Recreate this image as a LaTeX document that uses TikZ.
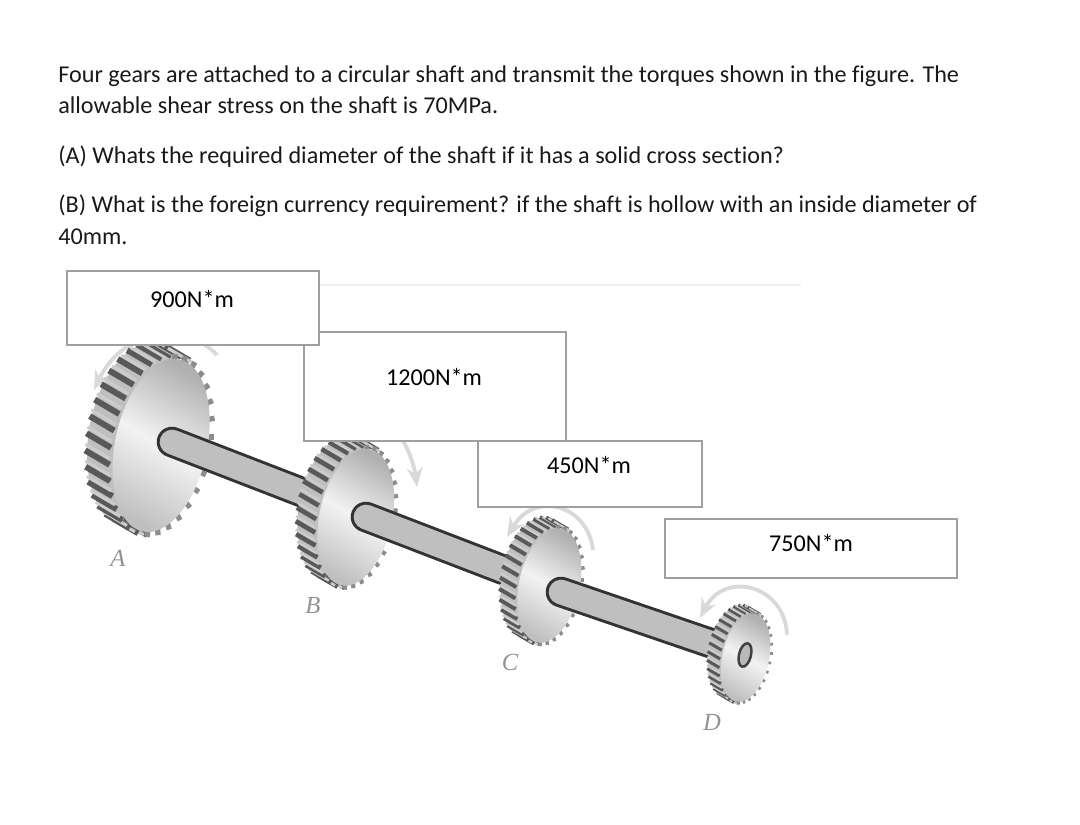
\documentclass[tikz,border=0pt]{standalone}
\usepackage{fontspec}
\setmainfont[Ligatures=NoCommon]{Carlito}
\newfontfamily\letterfont{Liberation Serif}
\usetikzlibrary{arrows.meta}

% One gear wheel: x, y, scale
\newcommand{\gearwheel}[3]{
    \begin{scope}[shift={(#1,#2)}, scale=#3, rotate=-12]
        % Teeth across the rim, left side
        \fill[gray!50] (-15,-6) ellipse (47 and 89);
        \foreach \a in {84,95,...,282} {
            \draw[toothdark, line width=#3*3.4pt] (\a:49 and 91) ++(-15,-6) -- ++(27,9);
            \draw[toothlight, line width=#3*1.8pt] (\a+4:49 and 91) ++(-15,-6) -- ++(27,9);
        }
        % Small teeth round the front edge
        \foreach \a in {-96,-84,...,90} {
            \draw[toothedge, line width=#3*3pt] (\a:44 and 86) ++(12,3) -- ++(\a:7 and 7);
        }
        % Front face
        \shade[left color=gray!62, right color=gray!50, middle color=gray!10, shading angle=-30] (12,3) ellipse (46 and 88);
    \end{scope}
}

\tikzset{
    shaftline/.style={draw=black!80, line width=1.7pt, double=gray!50, double distance=14pt, line cap=round},
    toothdark/.style={draw=black!65},
    toothlight/.style={draw=gray!40},
    toothedge/.style={draw=black!45},
    torquearrow/.style={draw=gray!30, line width=2.2pt, -{Stealth[length=11pt, width=9pt]}},
    torquebox/.style={draw=gray!75, line width=1.1pt, fill=white, inner sep=0pt},
    bodyline/.style={anchor=base west, inner sep=0pt, text=black!90},
    pointname/.style={text=gray!85, font=\fontsize{14}{16}\selectfont\letterfont\itshape},
}

\begin{document}
\begin{tikzpicture}[x=0.02cm, y=-0.02cm, every node/.style={font=\fontsize{13.75}{16}\selectfont}]
    \useasboundingbox (0,0) rectangle (1080,825);

    % Question text
    \node[bodyline] (lineone) at (58,82) {Four gears are attached to a circular shaft and transmit the torques shown in the figure. The};
    \node[bodyline] (linetwo) at (58,113) {allowable shear stress on the shaft is 70MPa.};
    \node[bodyline] (linethree) at (58,163) {(A) Whats the required diameter of the shaft if it has a solid cross section?};
    \node[bodyline] (linefour) at (58,212) {(B) What is the foreign currency requirement? if the shaft is hollow with an inside diameter of};
    \node[bodyline] (linefive) at (58,244) {40mm.};

    % Faint rule behind the figure
    \coordinate (ruleleft) at (67,285);
    \coordinate (ruleright) at (801,285);
    \draw[gray!12, line width=1pt] (ruleleft) -- (ruleright);

    % Shaft ends
    \coordinate (shaftA) at (172,442);
    \coordinate (shaftB) at (366,517);
    \coordinate (shaftC) at (561,592);
    \coordinate (shaftD) at (725,648);

    % Torque arrows
    \coordinate (arrowAstart) at (217,355);
    \coordinate (arrowAend) at (94,390);
    \coordinate (arrowBstart) at (403,441);
    \coordinate (arrowBend) at (417,487);
    \coordinate (arrowCstart) at (593,550);
    \coordinate (arrowCend) at (507,537);
    \coordinate (arrowDstart) at (787,635);
    \coordinate (arrowDend) at (700,618);
    \draw[torquearrow] (arrowAstart) .. controls (190,325) and (125,325) .. (arrowAend);
    \draw[torquearrow] (arrowBstart) .. controls (410,452) and (415,470) .. (arrowBend);
    \draw[torquearrow] (arrowCstart) .. controls (588,505) and (535,490) .. (arrowCend);
    \draw[torquearrow] (arrowDstart) .. controls (785,585) and (725,570) .. (arrowDend);

    % Gears and shaft
    \gearwheel{150}{440}{1}
    \draw[shaftline] (shaftA) -- (shaftB);
    \gearwheel{347}{513}{0.79}
    \draw[shaftline] (shaftB) -- (shaftC);
    \gearwheel{542}{582}{0.66}
    \draw[shaftline] (shaftC) -- (shaftD);
    \gearwheel{740}{655}{0.51}
    \draw[draw=black!75, line width=1.4pt, fill=gray!55, rotate around={-14:(745,655)}] (745,655) ellipse (6 and 12);

    % Gear letters
    \node[pointname] (nameA) at (118,558) {A};
    \node[pointname] (nameB) at (313,605) {B};
    \node[pointname] (nameC) at (510,662) {C};
    \node[pointname] (nameD) at (712,722) {D};

    % Torque boxes
    \foreach \x/\y/\w/\h/\tag/\lx/\ly/\val in {435/386.5/262/109/bee/434/377/1200N*m, 590/474/224/66/cee/589/465/450N*m, 811/548.5/292/59/dee/811/543/750N*m, 193/308/252/74/aye/192/299/900N*m} {
        \node[torquebox, minimum width=\w*0.02cm, minimum height=\h*0.02cm] (box\tag) at (\x,\y) {};
        \node (torque\tag) at (\lx,\ly) {\val};
    }
\end{tikzpicture}
\end{document}
